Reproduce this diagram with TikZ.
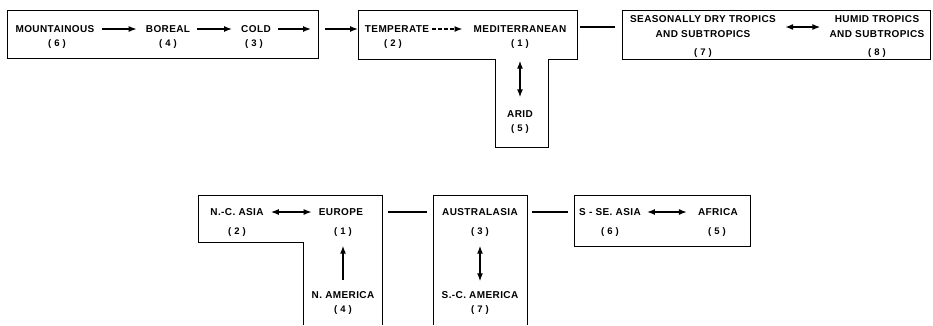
\documentclass[tikz,border=0pt]{standalone}
\usepackage{fontspec}
\setmainfont{Liberation Sans}[LetterSpace=4]
\usetikzlibrary{arrows.meta}
\tikzset{lbl/.style={inner sep=1pt,font=\fontsize{10}{12}\selectfont\bfseries},
 num/.style={inner sep=1pt,font=\fontsize{9.5}{11}\selectfont\bfseries},
 boxline/.style={line width=1pt},
 link/.style={line width=1.4pt,-{Latex[length=8pt,width=6pt]}},
 twoway/.style={line width=1.4pt,{Latex[length=8pt,width=6pt]}-{Latex[length=8pt,width=6pt]}},
 gap/.style={shorten <=6pt,shorten >=8pt},
 }

\begin{document}
\begin{tikzpicture}[x=1pt,y=-1pt]
        \useasboundingbox (0,0) rectangle (933,325);
        % upper row: the boxes
        \draw [boxline] (7,10) rectangle (318,58);
        \draw [boxline] (358,10) -- (577,10) -- (577,59) -- (548,59) -- (548,147)
            -- (495,147) -- (495,59) -- (358,59) -- cycle;
        \draw [boxline] (622,10) rectangle (930,59);
        % upper row: the labels
        \node [lbl] (mount) at (55,29) {MOUNTAINOUS};
        \node [num] (mountn) at (57,44) {( 6 )};
        \node [lbl] (boreal) at (168,29) {BOREAL};
        \node [num] (borealn) at (168,44) {( 4 )};
        \node [lbl] (cold) at (256,29) {COLD};
        \node [num] (coldn) at (254,44) {( 3 )};
        \node [lbl] (temp) at (397,29) {TEMPERATE};
        \node [num] (tempn) at (393,44) {( 2 )};
        \node [lbl] (med) at (520,29) {MEDITERRANEAN};
        \node [num] (medn) at (520,44) {( 1 )};
        \node [lbl] (arid) at (520,114) {ARID};
        \node [num] (aridn) at (520,129) {( 5 )};
        \node [lbl,align=center] (seas) at (703,27) {SEASONALLY DRY TROPICS\\[3pt]AND SUBTROPICS};
        \node [num] (seasn) at (703,53) {( 7 )};
        \node [lbl,align=center] (humid) at (877,27) {HUMID TROPICS\\[3pt]AND SUBTROPICS};
        \node [num] (humidn) at (877,53) {( 8 )};
        \coordinate (coldend) at (311,29);
        \coordinate (boxa) at (325,29);
        \coordinate (boxb) at (358,29);
        \coordinate (boxc) at (580,27);
        \coordinate (boxd) at (615,27);
        % upper row: the arrows
        \draw [link,gap] (mount) -- (boreal);
        \draw [link,gap] (boreal) -- (cold);
        \draw [link,shorten <=6pt] (cold) -- (coldend);
        \draw [link] (boxa) -- (boxb);
        \draw [link,dash pattern=on 4pt off 2pt,shorten <=2pt,shorten >=10pt] (temp) -- (med);
        \draw [twoway,shorten <=11pt,shorten >=12pt] (medn) -- (arid);
        \draw [line width=1.4pt] (boxc) -- (boxd);
        \draw [twoway,shorten <=8pt,shorten >=8pt] (seas) -- (humid);
        % lower row: the boxes
        \draw [boxline] (303,325) -- (303,242) -- (198,242) -- (198,195) -- (382,195) -- (382,325);
        \draw [boxline] (433,325) -- (433,195) -- (527,195) -- (527,325);
        \draw [boxline] (574,195) rectangle (750,246);
        % lower row: the labels
        \node [lbl] (ncasia) at (237,212) {N.-C. ASIA};
        \node [num] (ncasian) at (237,232) {( 2 )};
        \node [lbl] (europe) at (341,212) {EUROPE};
        \node [num] (europen) at (343,232) {( 1 )};
        \node [lbl] (namer) at (343,295) {N. AMERICA};
        \node [num] (namern) at (343,310) {( 4 )};
        \node [lbl] (aus) at (480,212) {AUSTRALASIA};
        \node [num] (ausn) at (480,232) {( 3 )};
        \node [lbl] (scamer) at (480,295) {S.-C. AMERICA};
        \node [num] (scamern) at (480,310) {( 7 )};
        \node [lbl] (ssea) at (610,212) {S - SE. ASIA};
        \node [num] (sasian) at (610,232) {( 6 )};
        \node [lbl] (africa) at (718,212) {AFRICA};
        \node [num] (african) at (717,232) {( 5 )};
        \coordinate (boxe) at (388,212);
        \coordinate (boxf) at (427,212);
        \coordinate (boxg) at (532,212);
        \coordinate (boxh) at (568,212);
        % lower row: the arrows
        \draw [twoway,shorten <=6pt,shorten >=6pt] (ncasia) -- (europe);
        \draw [link,shorten <=10pt,shorten >=8pt] (namer) -- (europen);
        \draw [line width=1.4pt] (boxe) -- (boxf);
        \draw [twoway,shorten <=8pt,shorten >=9pt] (ausn) -- (scamer);
        \draw [line width=1.4pt] (boxg) -- (boxh);
        \draw [twoway,shorten <=5pt,shorten >=10pt] (ssea) -- (africa);
    \end{tikzpicture}
\end{document}
